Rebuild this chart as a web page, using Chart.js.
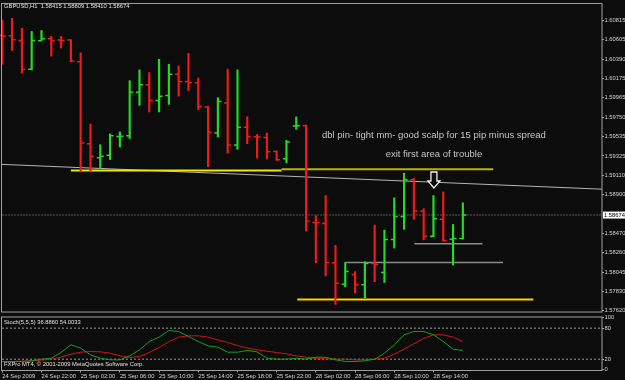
<!DOCTYPE html>
<html>
<head>
<meta charset="utf-8">
<script src="https://cdn.jsdelivr.net/npm/chart.js@4.4.0/dist/chart.umd.min.js"></script>
<style>
  html, body { margin: 0; padding: 0; background: #0c0c0c; }
  #wrap { position: relative; width: 625px; height: 380px; overflow: hidden; }
  canvas { position: absolute; left: 0; }
  #main { top: 0; }
  #stoch { top: 308px; }
</style>
</head>
<body>
<div id="wrap">
  <canvas id="main" width="625" height="316"></canvas>
  <canvas id="stoch" width="625" height="72"></canvas>
</div>
<script>
// GBPUSD H1 bars, 24 Sep 18:00 .. 28 Sep 17:00
const opens  = [1.60652,1.60649,1.60598,1.60281,1.60595,1.60617,1.60601,1.60601,1.60363,1.59460,1.59305,1.59333,1.59539,1.59547,1.60027,1.60110,1.59937,1.59991,1.60226,1.60146,1.60132,1.59864,1.59579,1.59908,1.59446,1.59641,1.59536,1.59528,1.59373,1.59294,1.59655,1.59658,1.58593,1.58582,1.58148,1.57913,1.58018,1.57906,1.58140,1.58040,1.58405,1.58658,1.59062,1.58715,1.58441,1.58628,1.58408,1.58415];
const highs  = [1.60823,1.60840,1.60732,1.60696,1.60707,1.60642,1.60642,1.60606,1.60460,1.59677,1.59449,1.59568,1.59590,1.60154,1.60273,1.60244,1.60389,1.60335,1.60316,1.60454,1.60183,1.59872,1.59966,1.60281,1.60273,1.59756,1.59561,1.59576,1.59381,1.59496,1.59756,1.59666,1.58665,1.58888,1.58340,1.58151,1.58051,1.58159,1.58563,1.58509,1.58864,1.59135,1.59077,1.58744,1.58888,1.58929,1.58571,1.58809];
const lows   = [1.60335,1.60487,1.60237,1.60273,1.60595,1.60425,1.60515,1.60363,1.59149,1.59160,1.59186,1.59286,1.59424,1.59517,1.59883,1.59810,1.59810,1.59893,1.59984,1.60045,1.59836,1.59207,1.59533,1.59355,1.59398,1.59460,1.59301,1.59294,1.59276,1.59251,1.59619,1.58498,1.58148,1.58004,1.57690,1.57885,1.57815,1.57761,1.57939,1.57931,1.58311,1.58517,1.58628,1.58401,1.58433,1.58384,1.58123,1.58410];
const closes = [1.60645,1.60606,1.60281,1.60598,1.60617,1.60595,1.60598,1.60371,1.59467,1.59322,1.59322,1.59547,1.59541,1.60027,1.60110,1.59937,1.59984,1.60226,1.60146,1.60132,1.59872,1.59587,1.59926,1.59446,1.59641,1.59539,1.59534,1.59370,1.59283,1.59478,1.59657,1.58607,1.58590,1.58151,1.57924,1.58051,1.57906,1.58140,1.58130,1.58405,1.58658,1.59062,1.58719,1.58441,1.58633,1.58395,1.58416,1.58674];

const stochMain   = [15.5,15.5,15.5,16.8,20.0,21.9,32.9,47.8,41.3,28.4,21.9,18.7,18.7,26.4,38.0,54.2,62.6,75.4,73.5,63.8,54.2,45.8,43.2,33.5,33.5,36.8,34.2,21.9,20.0,20.0,21.9,20.0,23.8,23.8,18.7,15.5,15.5,16.8,20.0,31.6,47.8,67.1,73.5,73.5,67.1,54.2,39.4,36.886];
const stochSignal = [15.5,15.5,16.1,16.8,18.1,20.0,23.8,29.6,33.5,34.8,34.2,31.6,26.4,23.2,25.1,32.9,42.6,53.5,62.6,65.2,65.2,62.6,57.4,52.3,46.4,41.3,38.0,35.5,32.9,30.3,26.4,23.8,21.9,20.6,20.0,20.0,18.7,18.7,20.0,21.9,29.6,39.4,49.7,60.0,67.1,67.1,62.6,54.0033];

const priceTicks = [1.60815,1.60605,1.60390,1.60175,1.59965,1.59750,1.59535,1.59325,1.59110,1.58900,1.58470,1.58260,1.58045,1.57830,1.57620];
const stochTicks = [100, 80, 20, 0];
const stochLevels = [80, 20];
const timeTickBars = [0,4,8,12,16,20,24,28,32,36,40,44];
const timeLabels = ['24 Sep 2009','24 Sep 22:00','25 Sep 02:00','25 Sep 06:00','25 Sep 10:00','25 Sep 14:00','25 Sep 18:00','25 Sep 22:00','28 Sep 02:00','28 Sep 06:00','28 Sep 10:00','28 Sep 14:00'];

// drawn objects (bar index, price)
const trendBars = [-0.03, 61.2], trendPrices = [1.59232, 1.58959];
const upperYellowBars = [7.0, 28.5, 50.1], upperYellowPrices = [1.59165, 1.59178];
const lowerYellowBars = [30.1, 54.2], lowerYellowPrice = 1.57744;
const greyLongBars = [35.0, 51.1], greyLongPrice = 1.58151;
const greyShortBars = [42.05, 49.0], greyShortPrice = 1.58357;
const arrowBar = 44.05, arrowTip = 1.58972;
const notes = ['dbl pin- tight mm- good scalp for 15 pip minus spread', 'exit first area of trouble'];
const noteBar = 44.05, notePrices = [1.59557, 1.59341];

const xMin = -0.03, xMax = 61.2;
const FONT = '"Liberation Sans", Arial, sans-serif';
const small = { family: FONT, size: 5.8 };
const bull = '#22dd22', bear = '#f01a1a';
const frameColor = '#a0a0a0';
const last = closes.length - 1;

Chart.defaults.font.family = FONT;

function seg(xs, ys, color, width, dash) {
  return {
    type: 'line',
    data: xs.map((x, i) => ({ x: x, y: ys[i] })),
    borderColor: color, borderWidth: width, borderDash: dash || [],
    pointRadius: 0, fill: false, tension: 0
  };
}

const framePlugin = {
  id: 'frame',
  afterDraw(chart) {
    const { ctx, chartArea: a } = chart;
    ctx.save();
    ctx.strokeStyle = frameColor;
    ctx.lineWidth = 1;
    ctx.strokeRect(a.left - 0.5, a.top - 0.5, a.right - a.left + 0.5, a.bottom - a.top + 0.5);
    ctx.restore();
  }
};

const ohlcPlugin = {
  id: 'ohlc',
  afterDatasetsDraw(chart) {
    const { ctx, scales: { x, y } } = chart;
    ctx.save();
    ctx.lineWidth = 1.5;
    opens.forEach((o, i) => {
      const px = x.getPixelForValue(i);
      ctx.strokeStyle = closes[i] >= o ? bull : bear;
      ctx.beginPath();
      ctx.moveTo(px - 3.5, y.getPixelForValue(o));
      ctx.lineTo(px, y.getPixelForValue(o));
      ctx.moveTo(px, y.getPixelForValue(closes[i]));
      ctx.lineTo(px + 3.5, y.getPixelForValue(closes[i]));
      ctx.stroke();
    });
    ctx.restore();
  }
};

const mainDecor = {
  id: 'mainDecor',
  afterDraw(chart) {
    const { ctx, scales: { x, y } } = chart;
    ctx.save();
    // header
    ctx.font = '5.8px ' + FONT;
    ctx.fillStyle = '#e0e0e0';
    ctx.textBaseline = 'middle';
    ctx.textAlign = 'left';
    ctx.fillText('GBPUSD,H1  ' + [opens[last], highs[last], lows[last], closes[last]].map(v => v.toFixed(5)).join(' '), 4, 6);
    // notes
    ctx.font = '9.5px ' + FONT;
    ctx.fillStyle = '#c4c4c4';
    ctx.textAlign = 'center';
    notes.forEach((t, i) => ctx.fillText(t, x.getPixelForValue(noteBar), y.getPixelForValue(notePrices[i])));
    // arrow
    const ax = x.getPixelForValue(arrowBar), ay = y.getPixelForValue(arrowTip);
    ctx.beginPath();
    ctx.moveTo(ax, ay);
    ctx.lineTo(ax - 6, ay - 7);
    ctx.lineTo(ax - 3, ay - 7);
    ctx.lineTo(ax - 3, ay - 16);
    ctx.lineTo(ax + 3, ay - 16);
    ctx.lineTo(ax + 3, ay - 7);
    ctx.lineTo(ax + 6, ay - 7);
    ctx.closePath();
    ctx.fillStyle = '#0c0c0c';
    ctx.fill();
    ctx.strokeStyle = '#f2f2f2';
    ctx.lineWidth = 1.3;
    ctx.stroke();
    // current price box
    const py = y.getPixelForValue(closes[last]);
    ctx.fillStyle = '#ffffff';
    ctx.fillRect(y.left + 1, py - 3.5, 24, 7);
    ctx.fillStyle = '#000000';
    ctx.font = '5.8px ' + FONT;
    ctx.textAlign = 'left';
    ctx.fillText(closes[last].toFixed(5), y.left + 2, py);
    ctx.restore();
  }
};

new Chart(document.getElementById('main'), {
  data: {
    datasets: [
      {
        type: 'bar',
        data: highs.map((h, i) => ({ x: i, y: [lows[i], h] })),
        backgroundColor: closes.map((c, i) => c >= opens[i] ? bull : bear),
        barThickness: 1.5,
        borderWidth: 0
      },
      seg(upperYellowBars.slice(0, 2), [upperYellowPrices[0], upperYellowPrices[0]], '#f0e800', 2),
      seg(upperYellowBars.slice(1, 3), [upperYellowPrices[1], upperYellowPrices[1]], '#bcb400', 2),
      seg(lowerYellowBars, [lowerYellowPrice, lowerYellowPrice], '#ffd000', 2),
      seg(greyLongBars, [greyLongPrice, greyLongPrice], '#8a8a8a', 1.5),
      seg(greyShortBars, [greyShortPrice, greyShortPrice], '#8a8a8a', 1.5),
      seg(trendBars, trendPrices, '#b4b4b4', 1),
      seg([xMin, xMax], [closes[last], closes[last]], '#3c3c3c', 1.5, [2, 1])
    ]
  },
  options: {
    responsive: false,
    animation: false,
    layout: { padding: { left: 2, top: 2, right: 0, bottom: 1 } },
    plugins: { legend: { display: false }, tooltip: { enabled: false } },
    scales: {
      x: { type: 'linear', min: xMin, max: xMax, offset: false, display: false },
      y: {
        position: 'right', min: 1.57606, max: 1.60999,
        afterBuildTicks: s => { s.ticks = priceTicks.map(v => ({ value: v })); },
        afterFit: s => { s.width = 23; },
        ticks: { font: small, color: '#d4d4d4', padding: 0.5, autoSkip: false, callback: v => Number(v).toFixed(5) },
        grid: { drawOnChartArea: false, tickLength: 2, color: frameColor },
        border: { display: false }
      }
    }
  },
  plugins: [ohlcPlugin, mainDecor, framePlugin]
});

const stochDecor = {
  id: 'stochDecor',
  afterDraw(chart) {
    const { ctx, chartArea: a } = chart;
    ctx.save();
    ctx.font = '5.8px ' + FONT;
    ctx.fillStyle = '#e0e0e0';
    ctx.textBaseline = 'middle';
    ctx.fillText('Stoch(5,5,5) ' + stochMain[last].toFixed(4) + ' ' + stochSignal[last].toFixed(4), 4, a.top + 5);
    ctx.fillText('FXPro MT4, \u00a9 2001-2009 MetaQuotes Software Corp.', 4, a.bottom - 6.5);
    ctx.restore();
  }
};

new Chart(document.getElementById('stoch'), {
  data: {
    datasets: [
      { type: 'line', data: stochMain.map((v, i) => ({ x: i, y: v })), borderColor: '#16a016', borderWidth: 1, pointRadius: 0, tension: 0 },
      { type: 'line', data: stochSignal.map((v, i) => ({ x: i, y: v })), borderColor: '#d01616', borderWidth: 1, pointRadius: 0, tension: 0 },
      ...stochLevels.map(l => seg([xMin, xMax], [l, l], '#9a9a9a', 1, [2, 2]))
    ]
  },
  options: {
    responsive: false,
    animation: false,
    layout: { padding: { left: 2, top: 9.5, right: 0, bottom: 0 } },
    plugins: { legend: { display: false }, tooltip: { enabled: false } },
    scales: {
      x: {
        type: 'linear', min: xMin, max: xMax, offset: false,
        afterBuildTicks: s => { s.ticks = timeTickBars.map(v => ({ value: v })); },
        afterFit: s => { s.height = 9.5; },
        ticks: { font: small, color: '#d4d4d4', align: 'start', padding: 0.5, maxRotation: 0, autoSkip: false,
                 callback: v => timeLabels[timeTickBars.indexOf(v)] },
        grid: { drawOnChartArea: false, tickLength: 2, color: frameColor },
        border: { display: false }
      },
      y: {
        position: 'right', min: -1.9, max: 100.6,
        afterBuildTicks: s => { s.ticks = stochTicks.map(v => ({ value: v })); },
        afterFit: s => { s.width = 23; },
        ticks: { font: small, color: '#d4d4d4', padding: 0.5, autoSkip: false },
        grid: { drawOnChartArea: false, tickLength: 2, color: frameColor },
        border: { display: false }
      }
    }
  },
  plugins: [stochDecor, framePlugin]
});
</script>
</body>
</html>
